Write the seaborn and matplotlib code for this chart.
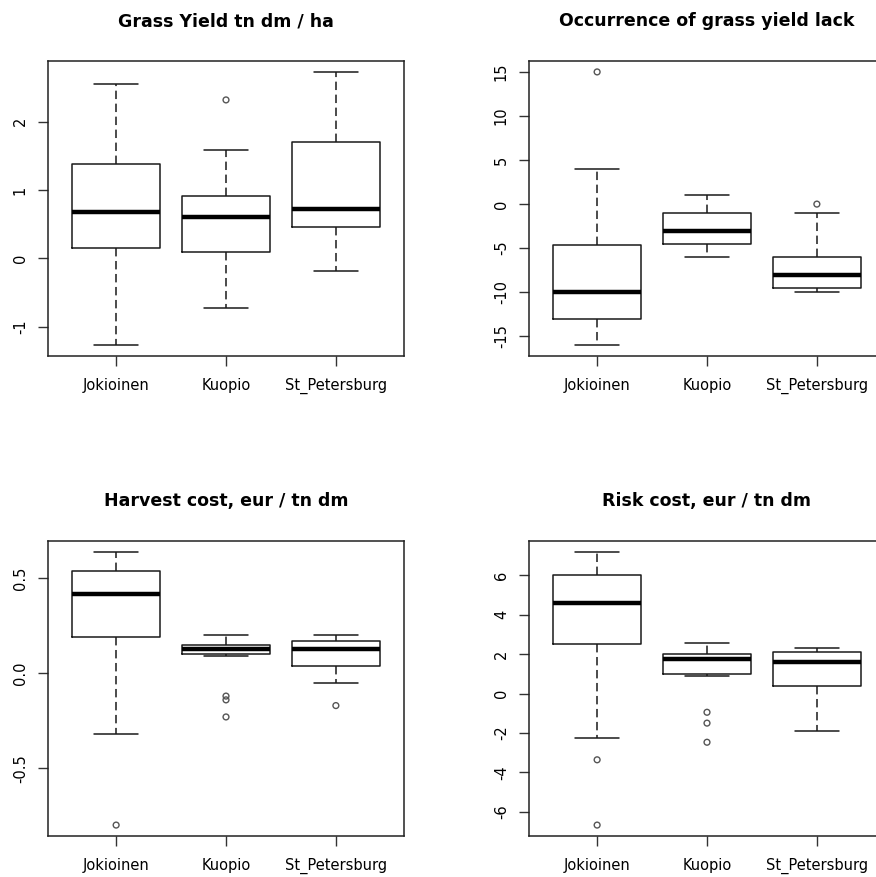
import numpy as np
import pandas as pd
import matplotlib
matplotlib.use("Agg")
import matplotlib.pyplot as plt
from matplotlib.ticker import MultipleLocator
import seaborn as sns

#%% Daten

cities = ["Jokioinen", "Kuopio", "St_Petersburg"]

titles = ["Grass Yield tn dm / ha",
          "Occurrence of grass yield lack",
          "Harvest cost, eur / tn dm",
          "Risk cost, eur / tn dm"]

# Fünf-Punkte-Zusammenfassung je Stadt: unterer Whisker, Q1, Median, Q3, oberer Whisker
yield_box = [[-1.27, 0.15, 0.68, 1.38, 2.55],
             [-0.73, 0.10, 0.61, 0.92, 1.58],
             [-0.18, 0.46, 0.72, 1.70, 2.73]]
yield_out = [[], [2.32], []]

lack_box = [[-16, -13, -10, -4.6, 4],
            [-6, -4.5, -3, -1, 1],
            [-10, -9.5, -8, -6, -1]]
lack_out = [[15], [], [0]]

harvest_box = [[-0.32, 0.19, 0.42, 0.54, 0.64],
               [0.09, 0.10, 0.13, 0.15, 0.20],
               [-0.05, 0.04, 0.13, 0.17, 0.20]]
harvest_out = [[-0.80], [-0.12, -0.14, -0.23], [-0.17]]

risk_box = [[-2.28, 2.52, 4.59, 6.03, 7.18],
            [0.91, 1.01, 1.77, 2.01, 2.58],
            [-1.89, 0.39, 1.60, 2.13, 2.31]]
risk_out = [[-3.36, -6.67], [-0.95, -1.50, -2.47], []]

panels = [(yield_box, yield_out, 1),
          (lack_box, lack_out, 5),
          (harvest_box, harvest_out, 0.5),
          (risk_box, risk_out, 2)]

#%% Hilfsfunktionen

def long_frame(groups):
    rows = [(c, v) for c, vals in zip(cities, groups) for v in vals]
    return pd.DataFrame(rows, columns=["city", "value"])

#%% Plot

sns.set_style("ticks")
plt.rcParams["font.family"] = ["DejaVu Sans"]
plt.rcParams["axes.unicode_minus"] = False
plt.rcParams["text.color"] = "black"

W, H = 876, 877
fig = plt.figure(figsize=(W / 100, H / 100), dpi=100)

# Achsenpositionen in Pixeln (links, oben), Breite/Höhe
corners = [(48, 61), (529, 61), (48, 541), (529, 541)]
aw, ah = 356, 295

for (box, out, step), title, (left, top) in zip(panels, titles, corners):
    ax = fig.add_axes([left / W, 1 - (top + ah) / H, aw / W, ah / H])

    sns.boxplot(data=long_frame(box), x="city", y="value", order=cities,
                whis=(0, 100), width=0.8, fill=False, color="#1a1a1a",
                linewidth=1.1, showfliers=False,
                medianprops=dict(linewidth=3.2, color="black"),
                whiskerprops=dict(linestyle=(0, (5.5, 3))),
                ax=ax)
    sns.stripplot(data=long_frame(out), x="city", y="value", order=cities,
                  jitter=False, size=4.2, marker="o", facecolor="none",
                  edgecolor="#555555", linewidth=1.0, ax=ax)

    allv = np.concatenate([np.ravel(box), np.array(sum(out, []), dtype=float)])
    pad = 0.04 * (allv.max() - allv.min())
    ax.set_ylim(allv.min() - pad, allv.max() + pad)
    ax.set_xlim(-0.62, 2.62)
    ax.yaxis.set_major_locator(MultipleLocator(step))

    for s in ax.spines.values():
        s.set_visible(True)
        s.set_color("#222222")
        s.set_linewidth(1.1)

    ax.tick_params(axis="both", direction="out", length=7.5, width=1.0,
                   color="#333333", labelsize=10.5, labelcolor="black")
    ax.tick_params(axis="x", pad=8.5)
    ax.tick_params(axis="y", pad=7, labelrotation=90)
    plt.setp(ax.get_yticklabels(), va="center")

    ax.set_xlabel("")
    ax.set_ylabel("")
    ax.set_title(title, fontsize=12.5, fontweight="bold", color="black", pad=25)

fig.savefig("out.png", dpi=100)
